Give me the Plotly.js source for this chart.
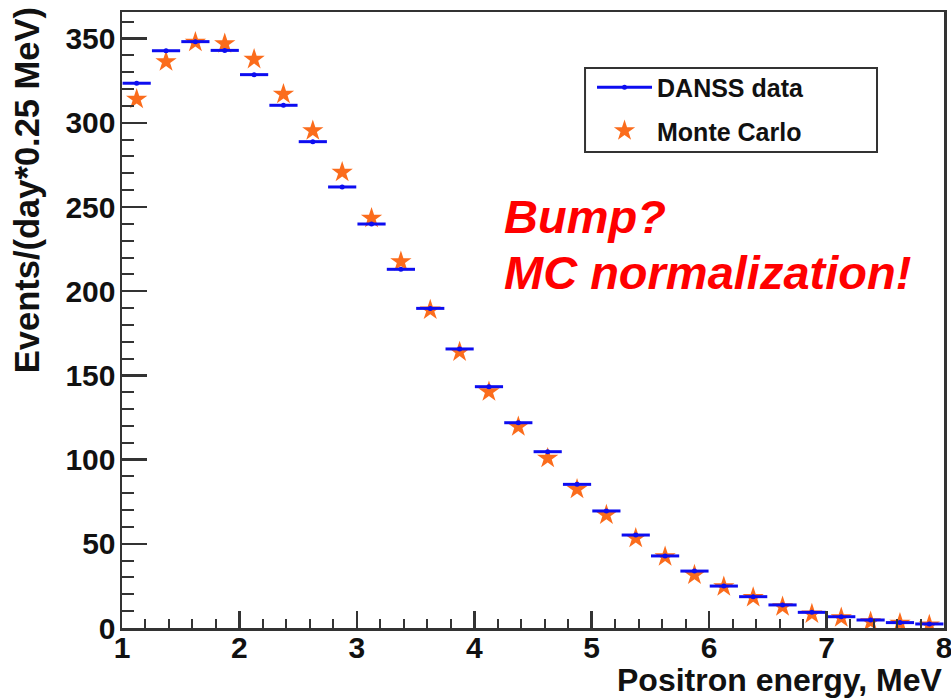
<!DOCTYPE html>
<html>
<head>
<meta charset="utf-8">
<script src="https://cdn.plot.ly/plotly-3.0.1.min.js"></script>
<style>
  html, body { margin: 0; padding: 0; background: #ffffff; }
  #chart { width: 951px; height: 699px; }
</style>
</head>
<body>
<div id="chart"></div>
<script>
// Bin centres of positron energy (MeV), 0.25 MeV bins from 1 to 8
const energy = [1.125, 1.375, 1.625, 1.875, 2.125, 2.375, 2.625, 2.875, 3.125, 3.375,
                3.625, 3.875, 4.125, 4.375, 4.625, 4.875, 5.125, 5.375, 5.625, 5.875,
                6.125, 6.375, 6.625, 6.875, 7.125, 7.375, 7.625, 7.875];
// DANSS data, events/(day*0.25 MeV)
const danssData = [323.5, 342.8, 348.2, 343.0, 328.6, 310.4, 288.8, 261.9, 239.9, 213.0,
                   189.8, 165.7, 143.3, 121.9, 104.7, 85.3, 69.5, 55.2, 42.8, 33.8,
                   24.9, 18.6, 13.7, 9.3, 6.7, 4.75, 3.2, 2.4];
// Monte Carlo prediction
const monteCarlo = [314.0, 336.3, 347.8, 347.0, 337.7, 317.0, 295.3, 270.6, 243.3, 217.5,
                    188.8, 164.0, 140.3, 119.5, 100.8, 82.4, 67.1, 53.3, 42.3, 31.5,
                    24.5, 18.2, 12.7, 8.3, 6.1, 3.8, 2.8, 1.8];
const binHalfWidth = 0.12;
const seriesNames = ["DANSS data", "Monte Carlo"];
const xTitle = "Positron energy, MeV";
const yTitle = "Events/(day*0.25 MeV)";
const noteLines = ["Bump?", "MC normalization!"];

const FONT = "Liberation Sans, Arial, Helvetica, sans-serif";
const BLUE = "#0d0df0";
const ORANGE = "#fb6c1c";
const FRAME = "#333333";
const NOTE_FONT = { family: FONT, size: 47, weight: "bold", style: "italic", color: "#ff0000" };

const traces = [
  {
    type: "scatter", mode: "markers", name: seriesNames[1],
    x: energy, y: monteCarlo,
    marker: { symbol: "star", size: 16, color: ORANGE, line: { width: 0 } },
    legendgroup: "mc", legendrank: 2
  },
  {
    type: "scatter", mode: "markers", name: seriesNames[0],
    x: energy, y: danssData,
    marker: { symbol: "circle", size: 5, color: BLUE },
    error_x: { type: "constant", value: binHalfWidth, thickness: 3, width: 0, color: BLUE },
    showlegend: false
  },
  {
    type: "scatter", mode: "lines+markers", name: seriesNames[0],
    x: [null], y: [null],
    line: { color: BLUE, width: 3 },
    marker: { symbol: "circle", size: 5, color: BLUE },
    legendgroup: "danss", legendrank: 1
  }
];

const layout = {
  width: 951, height: 699,
  paper_bgcolor: "#ffffff", plot_bgcolor: "#ffffff",
  margin: { l: 122, r: 7, t: 12, b: 71, pad: 0 },
  font: { family: FONT, color: "#111111" },
  showlegend: true,
  legend: {
    x: 0.5718, y: 0.9147, xanchor: "left", yanchor: "top",
    bgcolor: "rgba(0,0,0,0)", borderwidth: 0,
    font: { family: FONT, size: 25, weight: "bold", color: "#111111" },
    traceorder: "grouped", tracegroupgap: 8, itemwidth: 55
  },
  xaxis: {
    range: [1, 8], dtick: 1, tick0: 1,
    showgrid: false, zeroline: false,
    showline: true, linecolor: FRAME, linewidth: 2.5, mirror: true,
    ticks: "inside", ticklen: 17, tickwidth: 2.5, tickcolor: FRAME,
    minor: { dtick: 0.2, ticks: "inside", ticklen: 9, tickwidth: 2, tickcolor: FRAME, showgrid: false },
    tickfont: { family: FONT, size: 30, weight: "bold", color: "#111111" },
    ticklabelstandoff: -9, ticklabeloverflow: "allow"
  },
  yaxis: {
    range: [0, 365.8], dtick: 50, tick0: 0,
    showgrid: false, zeroline: false,
    showline: true, linecolor: FRAME, linewidth: 2.5, mirror: true,
    ticks: "inside", ticklen: 25, tickwidth: 2.5, tickcolor: FRAME,
    minor: { dtick: 10, ticks: "inside", ticklen: 12, tickwidth: 2, tickcolor: FRAME, showgrid: false },
    tickfont: { family: FONT, size: 30, weight: "bold", color: "#111111" },
    ticklabelstandoff: -2
  },
  shapes: [
    { type: "rect", xref: "paper", yref: "paper",
      x0: 0.5633, x1: 0.9185, y0: 0.7727, y1: 0.9091,
      line: { color: FRAME, width: 2 }, fillcolor: "rgba(0,0,0,0)", layer: "above" }
  ],
  annotations: [
    { xref: "paper", yref: "paper", x: 0.9985, y: -0.1145, xanchor: "right", yanchor: "bottom",
      text: xTitle, showarrow: false, borderpad: 0,
      font: { family: FONT, size: 32, weight: "bold", color: "#111111" } },
    { xref: "paper", yref: "paper", x: -0.1156, y: 1.011, xanchor: "center", yanchor: "top",
      text: yTitle, textangle: -90, showarrow: false,
      font: { family: FONT, size: 34.5, weight: "bold", color: "#111111" } },
    { xref: "x", yref: "y", x: 4.235, y: 244.1, xanchor: "left", yanchor: "middle",
      text: noteLines[0], align: "left", showarrow: false, font: NOTE_FONT },
    { xref: "x", yref: "y", x: 4.235, y: 211.4, xanchor: "left", yanchor: "middle",
      text: noteLines[1], align: "left", showarrow: false, font: NOTE_FONT }
  ]
};

Plotly.newPlot("chart", traces, layout, { displayModeBar: false, staticPlot: true });
</script>
</body>
</html>
